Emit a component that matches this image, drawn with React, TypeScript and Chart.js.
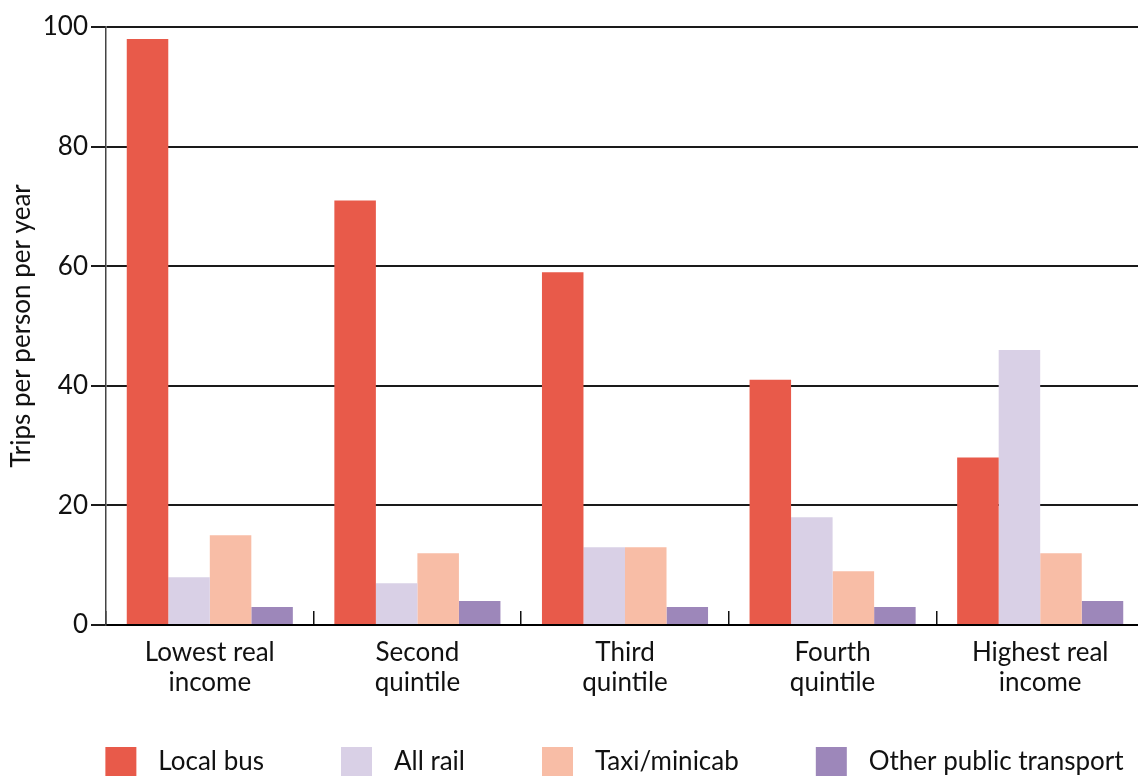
import React, { useEffect, useRef } from 'react';
import { Chart, registerables } from 'chart.js';

Chart.register(...registerables);

const categories = [
  ['Lowest real', 'income'],
  ['Second', 'quintile'],
  ['Third', 'quintile'],
  ['Fourth', 'quintile'],
  ['Highest real', 'income'],
];
const seriesNames = ['Local bus', 'All rail', 'Taxi/minicab', 'Other public transport'];
const localBus = [98, 71, 59, 41, 28];
const allRail = [8, 7, 13, 18, 46];
const taxiMinicab = [15, 12, 13, 9, 12];
const otherPublic = [3, 4, 3, 3, 4];
const seriesColors = ['#E85A4A', '#D9D0E6', '#F8BDA6', '#9D87BA'];
const yTicks = [0, 20, 40, 60, 80, 100];
const yTitle = 'Trips per person per year';

const FONT = 'Lato, "Open Sans", sans-serif';

// legend swatch: a transparent lead, then the coloured square
const SWATCH_LEAD = 27;
const SWATCH_W = 31;
const SWATCH_TAIL = 9;
const SWATCH_H = 30;

function makeSwatch(color: string) {
  const c = document.createElement('canvas');
  c.width = SWATCH_LEAD + SWATCH_W + SWATCH_TAIL;
  c.height = SWATCH_H;
  const ctx = c.getContext('2d');
  if (ctx) {
    ctx.fillStyle = color;
    ctx.fillRect(SWATCH_LEAD, 0, SWATCH_W, SWATCH_H);
  }
  return c;
}

export default function App() {
  const ref = useRef<HTMLCanvasElement | null>(null);

  useEffect(() => {
    if (!ref.current) return;
    const values = [localBus, allRail, taxiMinicab, otherPublic];
    const swatches = seriesColors.map(makeSwatch);
    const chart = new Chart(ref.current, {
      type: 'bar',
      data: {
        labels: categories,
        datasets: seriesNames.map((name, i) => ({
          label: name,
          data: values[i],
          backgroundColor: seriesColors[i],
          borderWidth: 0,
          categoryPercentage: 0.8,
          barPercentage: 1,
        })),
      },
      options: {
        animation: false,
        responsive: false,
        maintainAspectRatio: false,
        devicePixelRatio: 1,
        events: [],
        layout: { padding: { top: 27, left: 0, right: 0, bottom: 0 } },
        plugins: {
          tooltip: { enabled: false },
          legend: {
            position: 'bottom',
            fullSize: true,
            align: 'center',
            labels: {
              usePointStyle: true,
              pointStyleWidth: SWATCH_LEAD + SWATCH_W + SWATCH_TAIL,
              boxHeight: 26,
              padding: 50,
              color: '#111',
              font: { family: FONT, size: 26 },
              generateLabels: (ch: any) => {
                const items = Chart.defaults.plugins.legend.labels.generateLabels(ch);
                return items.map((it: any, i: number) => ({
                  ...it,
                  pointStyle: swatches[i],
                  lineWidth: 0,
                }));
              },
            },
          },
        },
        scales: {
          x: {
            grid: {
              display: true,
              drawOnChartArea: false,
              drawTicks: true,
              tickLength: -14,
              color: '#111',
              lineWidth: 1.5,
              offset: true,
            },
            border: { display: true, color: '#000', width: 2 },
            ticks: {
              color: '#111',
              padding: 27,
              maxRotation: 0,
              autoSkip: false,
              font: { family: FONT, size: 26, lineHeight: 1.15 },
            },
            afterFit: (s: any) => {
              s.height = 74;
            },
          },
          y: {
            min: 0,
            max: 100,
            afterBuildTicks: (s: any) => {
              s.ticks = yTicks.map((v) => ({ value: v }));
            },
            grid: {
              color: '#1a1a1a',
              lineWidth: 2,
              drawTicks: true,
              tickLength: 15,
            },
            border: { display: true, color: '#444', width: 1.5 },
            ticks: {
              color: '#111',
              padding: 3,
              font: { family: FONT, size: 26 },
            },
            title: {
              display: true,
              text: yTitle,
              color: '#111',
              padding: { top: 6, bottom: 0 },
              font: { family: FONT, size: 26, lineHeight: 1.2 },
            },
            afterFit: (s: any) => {
              s.width = 106;
            },
          },
          spacer: {
            type: 'linear',
            position: 'right',
            display: true,
            grid: { display: false, drawTicks: false },
            border: { display: false },
            ticks: { display: false },
            afterFit: (s: any) => {
              s.width = 58;
            },
          },
        },
      },
    });
    return () => chart.destroy();
  }, []);

  return (
    <div
      style={{
        position: 'fixed',
        left: 0,
        top: 0,
        width: 1138,
        height: 776,
        overflow: 'hidden',
        background: '#fff',
      }}
    >
      <canvas ref={ref} width={1202} height={785} style={{ display: 'block' }} />
    </div>
  );
}
